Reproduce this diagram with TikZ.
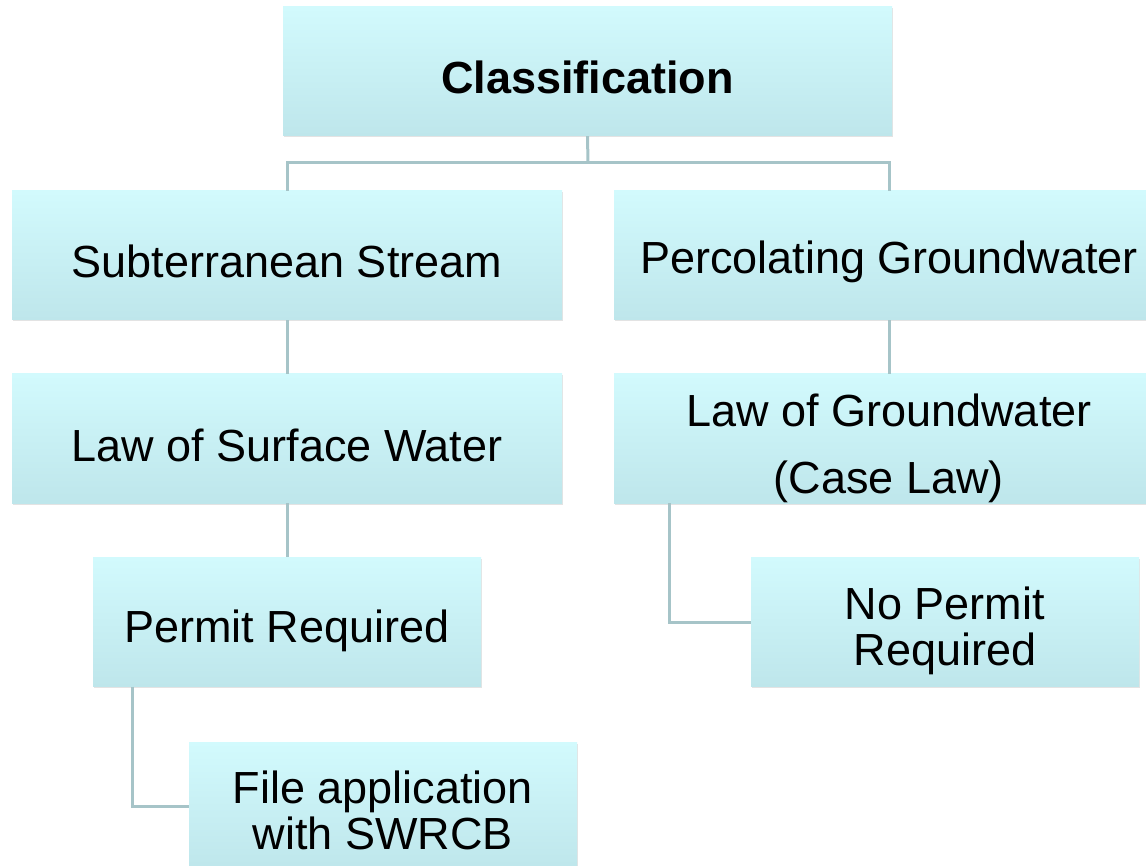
\documentclass[tikz,border=0pt]{standalone}
\usepackage{fontspec}
\setmainfont{Liberation Sans}
\usetikzlibrary{shadows}
\definecolor{boxtop}{HTML}{D2FAFD}
\definecolor{boxbot}{HTML}{BEE6EB}
\definecolor{conn}{HTML}{A6C4C8}
\begin{document}
\begin{tikzpicture}[x=1pt,y=-1pt,
  box/.style={rectangle, inner sep=0pt, draw=none, top color=boxtop, bottom color=boxbot,
    drop shadow={shadow xshift=1pt, shadow yshift=-1.5pt, opacity=0.18, fill=black!60}},
  txt/.style={align=center, inner sep=0pt, text=black, font=\fontsize{45}{46}\selectfont},
  wide/.style={minimum width=550pt, minimum height=129pt},
  narrow/.style={minimum width=388pt, minimum height=129pt},
  link/.style={draw=conn, line width=3pt}]
\useasboundingbox (0,0) rectangle (1146,866);

\node[box, minimum width=609pt, minimum height=129pt,
  label={[txt, font=\fontsize{45}{46}\selectfont\bfseries, yshift=-6pt]center:Classification}] (cls) at (587.5,71.5) {};
\node[box, wide, label={[txt, yshift=-6pt]center:Subterranean Stream}] (sub) at (287,255.5) {};
\node[box, wide, label={[txt, yshift=-6pt]center:Percolating Groundwater}] (perc) at (889,255.5) {};
\node[box, wide, label={[txt, yshift=-7pt]center:Law of Surface Water}] (lsw) at (287,438.5) {};
\node[box, wide, label={[txt, yshift=-10pt]center:{Law of Groundwater\\[21pt](Case Law)}}] (lgw) at (889,438.5) {};
\node[box, narrow, label={[txt, yshift=-9pt]center:Permit Required}] (perm) at (287,622) {};
\node[box, narrow, label={[txt, yshift=-9pt]center:{No Permit\\Required}}] (noperm) at (945,622) {};
\node[box, narrow, label={[txt, yshift=-4pt]center:{File application\\with SWRCB}}] (file) at (383,806.5) {};

\coordinate (split) at (588,163);
\draw[link] (cls.south) -- (split);
\draw[link] (sub.north) |- (split) -| (perc.north);
\draw[link] (sub.south) -- (lsw.north);
\draw[link] (perc.south) -- (lgw.north);
\draw[link] (lsw.south) -- (perm.north);
\draw[link] ([xshift=-155pt]perm.south) |- (file.west);
\draw[link] ([xshift=-220pt]lgw.south) |- (noperm.west);
\end{tikzpicture}
\end{document}
